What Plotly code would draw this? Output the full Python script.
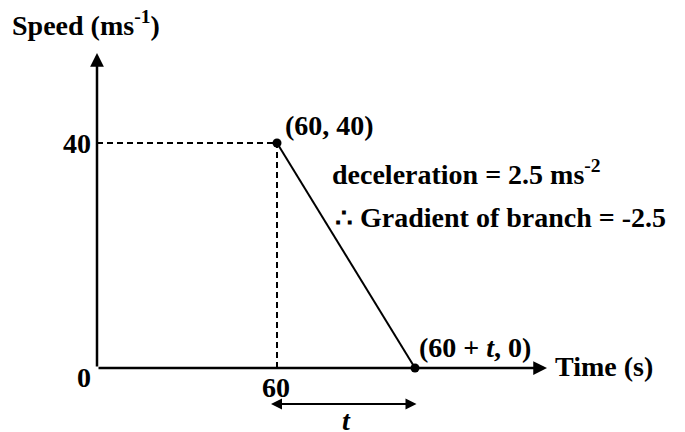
import plotly.graph_objects as go

# Data
branch_x = [60, 106]          # time (s): 60 and 60 + t (position as drawn)
branch_y = [40, 0]            # speed (m/s)
y_tick_vals = [0, 40]
y_tick_text = ["0", "40"]
x_tick_vals = [60]
x_tick_text = ["60"]
x_axis_end = 150
y_axis_end = 56

FONT = "Liberation Serif"
FS = 28
fcol = "black"

fig = go.Figure()

# dashed guide lines
fig.add_trace(go.Scatter(x=[0, branch_x[0]], y=[branch_y[0], branch_y[0]], mode="lines",
                         line=dict(color="black", width=2, dash="6px,4px"), hoverinfo="skip"))
fig.add_trace(go.Scatter(x=[branch_x[0], branch_x[0]], y=[0, branch_y[0]], mode="lines",
                         line=dict(color="black", width=2, dash="6px,4px"), hoverinfo="skip"))
# branch
fig.add_trace(go.Scatter(x=branch_x, y=branch_y, mode="lines",
                         line=dict(color="black", width=2), hoverinfo="skip"))
# axes lines with arrows
fig.add_annotation(x=x_axis_end, y=0, ax=0, ay=0, xref="x", yref="y", axref="x", ayref="y",
                   showarrow=True, arrowhead=2, arrowsize=1.1, arrowwidth=2.5, arrowcolor="black", text="")
fig.add_annotation(x=0, y=y_axis_end, ax=0, ay=0, xref="x", yref="y", axref="x", ayref="y",
                   showarrow=True, arrowhead=2, arrowsize=1.1, arrowwidth=2.5, arrowcolor="black", text="")
# points
fig.add_trace(go.Scatter(x=branch_x, y=branch_y, mode="markers",
                         marker=dict(color="black", size=9), hoverinfo="skip"))
# t double arrow
t_y = -6.4
fig.add_annotation(x=branch_x[0] - 2, y=t_y, ax=branch_x[1] + 1, ay=t_y, xref="x", yref="y",
                   axref="x", ayref="y", showarrow=True, arrowhead=2, startarrowhead=2,
                   arrowside="end+start", arrowsize=1.1, arrowwidth=2, arrowcolor="black", text="")

def label(x, y, text, xanchor="left", yanchor="middle", italic=False):
    t = f"<b>{text}</b>"
    if italic:
        t = f"<b><i>{text}</i></b>"
    fig.add_annotation(x=x, y=y, xref="x", yref="y", text=t, showarrow=False,
                       xanchor=xanchor, yanchor=yanchor,
                       font=dict(family=FONT, size=FS, color=fcol))

# tick labels
label(-1.5, y_tick_vals[1], y_tick_text[1], xanchor="right")
label(-1.5, -1.6, y_tick_text[0], xanchor="right")
label(x_tick_vals[0] - 0.5, -3.5, x_tick_text[0], xanchor="center")

label(-29, 61.2, "Speed (ms<sup>-1</sup>)")
label(152, 0.2, "Time (s)")
label(62, 43.2, "(60, 40)")
label(77.5, 34.8, "deceleration = 2.5 ms<sup>-2</sup>")
label(78.5, 26.8, "∴ Gradient of branch = -2.5")
label(106.8, 3.6, "(60 + <i>t</i>, 0)")
label(83.3, -9.3, "t", xanchor="center", italic=True)

fig.update_layout(
    width=685, height=432,
    margin=dict(l=0, r=0, t=0, b=0),
    paper_bgcolor="white", plot_bgcolor="white",
    showlegend=False,
    xaxis=dict(range=[-97/3, 588/3], visible=False, fixedrange=True),
    yaxis=dict(range=[-64/5.625, 368/5.625], visible=False, fixedrange=True),
)

fig.write_html("out.html", config={"displayModeBar": False},
               post_script="document.body.style.margin='0px';")
